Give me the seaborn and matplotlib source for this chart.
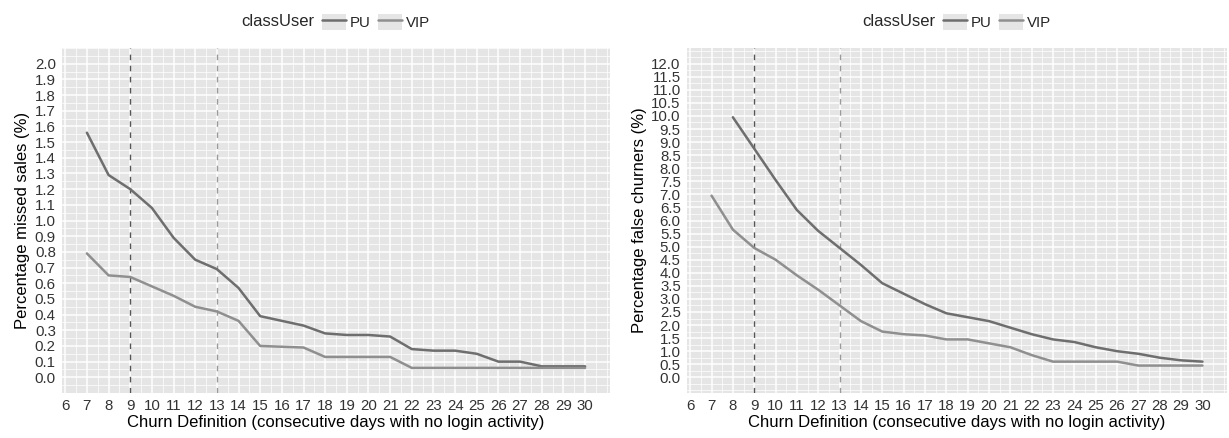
import numpy as np
import pandas as pd
import matplotlib
matplotlib.use("Agg")
import matplotlib.pyplot as plt
import seaborn as sns
from matplotlib.lines import Line2D
from matplotlib.patches import Patch
from matplotlib.legend_handler import HandlerTuple
from matplotlib.ticker import MultipleLocator

# Churn definition: consecutive days without login activity
days = list(range(7, 31))

# Percentage of missed sales per user class
missed_pu = [1.56, 1.29, 1.20, 1.08, 0.89, 0.75, 0.69, 0.57, 0.39, 0.36, 0.33, 0.28,
             0.27, 0.27, 0.26, 0.18, 0.17, 0.17, 0.15, 0.10, 0.10, 0.07, 0.07, 0.07]
missed_vip = [0.79, 0.65, 0.64, 0.58, 0.52, 0.45, 0.42, 0.36, 0.20, 0.195, 0.19, 0.13,
              0.13, 0.13, 0.13, 0.06, 0.06, 0.06, 0.06, 0.06, 0.06, 0.06, 0.06, 0.06]

# Percentage of false churners per user class (PU series starts at day 8)
false_pu = [None, 9.95, 8.75, 7.55, 6.40, 5.60, 4.95, 4.30, 3.60, 3.20, 2.80, 2.45,
            2.30, 2.15, 1.90, 1.65, 1.45, 1.35, 1.15, 1.00, 0.90, 0.75, 0.65, 0.60]
false_vip = [6.95, 5.65, 4.95, 4.50, 3.90, 3.35, 2.75, 2.15, 1.75, 1.65, 1.60, 1.45,
             1.45, 1.30, 1.15, 0.85, 0.60, 0.60, 0.60, 0.60, 0.45, 0.45, 0.45, 0.45]

classes = ["PU", "VIP"]
x_breaks = list(range(6, 31))
threshold_days = [9, 13]


def tidy(pu, vip):
    df = pd.DataFrame({
        "days": days * 2,
        "value": pu + vip,
        "classUser": [classes[0]] * len(days) + [classes[1]] * len(days),
    })
    return df.dropna()


df_missed = tidy(missed_pu, missed_vip)
df_false = tidy(false_pu, false_vip)

sns.set_theme(style="darkgrid")
plt.rcParams["font.family"] = ["Liberation Sans", "DejaVu Sans"]

palette = {"PU": "#6e6e6e", "VIP": "#8f8f8f"}
panel_bg = "#e5e5e5"

fig = plt.figure(figsize=(12.29, 4.38), dpi=100)
fig.patch.set_facecolor("white")
W, H = 1229, 438
ax1 = fig.add_axes([62 / W, 1 - 393 / H, 548 / W, 345 / H])
ax2 = fig.add_axes([687 / W, 1 - 393 / H, 540 / W, 345 / H])


def style_panel(ax, df, ylabel, ymax, ystep):
    sns.lineplot(data=df, x="days", y="value", hue="classUser", hue_order=classes,
                 palette=palette, linewidth=1.8, ax=ax, legend=False, zorder=3)
    ax.axvline(threshold_days[0], color="#555555", lw=1.0, ls=(0, (4, 4)), zorder=2)
    ax.axvline(threshold_days[1], color="#9a9a9a", lw=1.0, ls=(0, (4, 4)), zorder=2)

    ax.set_facecolor(panel_bg)
    ax.set_xlim(5.85, 31.15)
    ax.set_ylim(-0.05 * ymax, 1.05 * ymax)
    ax.set_xticks(x_breaks)
    ax.set_xticklabels([str(v) for v in x_breaks])
    yt = np.round(np.arange(0, ymax + ystep / 2, ystep), 2)
    ax.set_yticks(yt)
    ax.set_yticklabels([f"{v:.1f}" for v in yt])
    ax.xaxis.set_minor_locator(MultipleLocator(0.5))
    ax.yaxis.set_minor_locator(MultipleLocator(ystep / 2))
    ax.grid(which="major", color="white", linewidth=1.1)
    ax.grid(which="minor", color="white", linewidth=0.5)
    for s in ax.spines.values():
        s.set_visible(False)
    ax.tick_params(axis="both", which="major", length=3, width=0.9, color="#333333",
                   labelsize=10.8, labelcolor="#333333", pad=1.5)
    ax.tick_params(axis="both", which="minor", length=0)
    ax.set_xlabel("Churn Definition (consecutive days with no login activity)",
                  fontsize=12.0, color="black", labelpad=1)
    ax.set_ylabel(ylabel, fontsize=12.0, color="black", labelpad=3)

    handles = [(Patch(facecolor=panel_bg, edgecolor="none"),
                Line2D([], [], color=palette[c], lw=1.8)) for c in classes]
    leg = ax.legend(handles, classes, title="classUser", ncol=2, frameon=False,
                    loc="lower center", bbox_to_anchor=(0.5, 1.035),
                    handler_map={tuple: HandlerTuple(ndivide=1)},
                    handlelength=1.6, handleheight=1.3, handletextpad=0.3,
                    columnspacing=0.3, fontsize=10.8, title_fontsize=12.0,
                    borderaxespad=0)
    # Put the legend title on the left of the keys, on one row
    box = leg._legend_box
    title_box, body = box.get_children()
    box._children = [body]
    body._children.insert(0, title_box)
    body.sep = 5
    body.align = "center"


style_panel(ax1, df_missed, "Percentage missed sales (%)", 2.0, 0.1)
style_panel(ax2, df_false, "Percentage false churners (%)", 12.0, 0.5)

fig.savefig("out.png", dpi=100, facecolor="white")
